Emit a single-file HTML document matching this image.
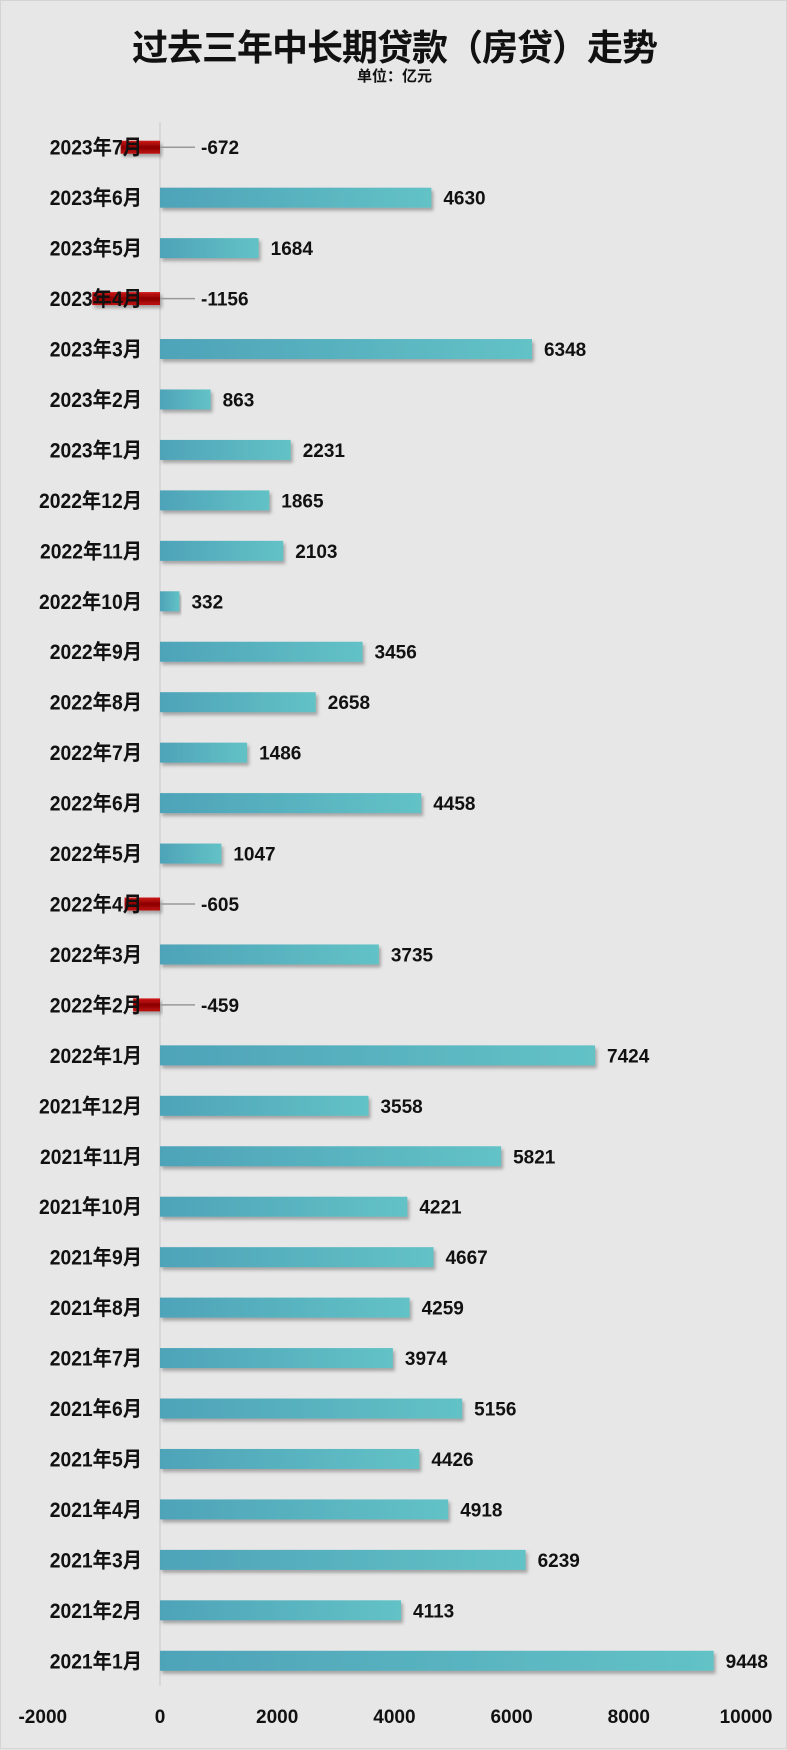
<!DOCTYPE html>
<html><head><meta charset="utf-8">
<style>
html,body{margin:0;padding:0;}
body{width:787px;height:1749px;background:#e7e7e7;font-family:"Liberation Sans","Noto Sans CJK SC",sans-serif;overflow:hidden;}
#wrap{position:relative;width:785px;height:1747px;border:1px solid #d4d4d4;}
.title{position:absolute;left:0;width:787px;text-align:center;font-weight:bold;color:#111;}
</style></head>
<body>
<div id="wrap">
<div class="title" style="top:18px;font-size:36px;letter-spacing:-1px;">过去三年中长期贷款（房贷）走势</div>
<div class="title" style="top:64px;font-size:15px;">单位：亿元</div>
<svg id="chart" width="787" height="1749" style="position:absolute;left:0;top:0">
<defs>
<linearGradient id="gpos" x1="0" x2="1" y1="0" y2="0"><stop offset="0" stop-color="#4ea3b8"/><stop offset="1" stop-color="#62c2c6"/></linearGradient>
<linearGradient id="gneg" x1="0" x2="0" y1="0" y2="1"><stop offset="0" stop-color="#d01818"/><stop offset="0.5" stop-color="#8a0000"/><stop offset="1" stop-color="#c01010"/></linearGradient>
<filter id="sh" x="-5%" y="-30%" width="115%" height="180%"><feDropShadow dx="2" dy="3" stdDeviation="1.5" flood-color="#555" flood-opacity="0.45"/></filter>
</defs>
</svg>
</div>
<script>
const categories=["2023年7月","2023年6月","2023年5月","2023年4月","2023年3月","2023年2月","2023年1月","2022年12月","2022年11月","2022年10月","2022年9月","2022年8月","2022年7月","2022年6月","2022年5月","2022年4月","2022年3月","2022年2月","2022年1月","2021年12月","2021年11月","2021年10月","2021年9月","2021年8月","2021年7月","2021年6月","2021年5月","2021年4月","2021年3月","2021年2月","2021年1月"];
const values=[-672,4630,1684,-1156,6348,863,2231,1865,2103,332,3456,2658,1486,4458,1047,-605,3735,-459,7424,3558,5821,4221,4667,4259,3974,5156,4426,4918,6239,4113,9448];
const ticks=[-2000,0,2000,4000,6000,8000,10000];
const NS="http://www.w3.org/2000/svg";
const svg=document.getElementById('chart');
const x0=159, xs=(745-159)/10000;
const X=v=>x0+v*xs;
const yTop=121, step=(1685-121)/categories.length;
const Y=i=>yTop+step*(i+0.5);
function mk(t,a){const e=document.createElementNS(NS,t);for(const k in a)e.setAttribute(k,a[k]);svg.appendChild(e);return e;}
const ax=mk('line',{x1:X(0),x2:X(0),y1:yTop,y2:1685,stroke:'#c8c8c8','stroke-width':1});


categories.forEach((c,i)=>{
  const v=values[i], y=Y(i);
  const h=v<0?13:20;
  const r=mk('rect',{x:Math.min(X(0),X(v)),y:y-h/2,width:Math.abs(X(v)-X(0)),height:h,fill:v<0?'url(#gneg)':'url(#gpos)',filter:'url(#sh)'});
  
  
  const lab=mk('text',{x:0,y:0,'text-anchor':'end','font-size':21,'font-weight':'bold',fill:'#111',transform:`translate(141,${y+7.5}) scale(0.92,1)`});
  lab.textContent=c;
  
  
  let lx;
  if(v<0){
    const ln=mk('line',{x1:X(0),x2:X(0)+35,y1:y,y2:y,stroke:'#999','stroke-width':1.5});
    
    
    lx=X(0)+41;
  } else lx=X(v)+12;
  const vl=mk('text',{x:lx,y:y+7,'font-size':19,'font-weight':'bold',fill:'#111'});
  vl.textContent=v;
  
  
});
ticks.forEach(t=>{
  const tx=mk('text',{x:X(t),y:1722,'text-anchor':'middle','font-size':19,'font-weight':'bold',fill:'#111'});
  tx.textContent=t;
  
  
});
</script>
</body></html>
